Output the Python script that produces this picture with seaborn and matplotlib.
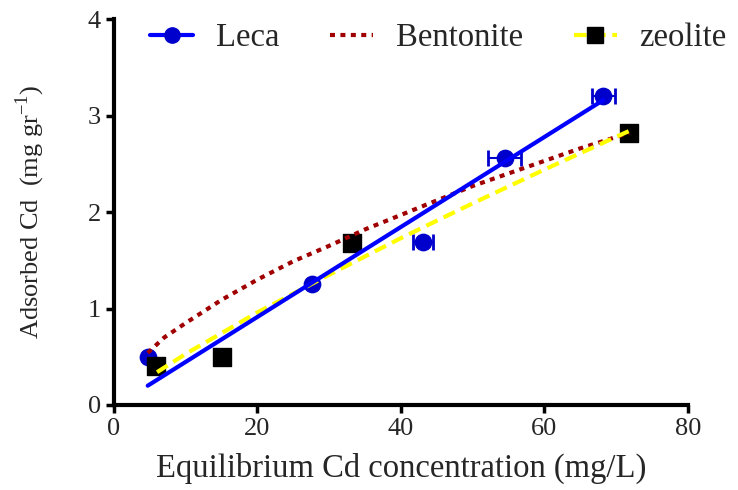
import matplotlib
matplotlib.use("Agg")
import matplotlib.pyplot as plt
import seaborn as sns
import pandas as pd
from matplotlib.lines import Line2D

# Measured points
leca_x = [4.7, 27.6, 43.1, 54.5, 68.2]
leca_y = [0.50, 1.25, 1.69, 2.56, 3.20]
leca_xerr = [0.0, 0.0, 1.4, 2.3, 1.6]

zeolite_x = [5.9, 15.0, 33.2, 71.8]
zeolite_y = [0.40, 0.50, 1.68, 2.82]

# Fitted curves
leca_fit_x = [4.7, 68.2]
leca_fit_y = [0.20, 3.16]

zeolite_fit_x = [6.0, 10, 20, 30, 40, 50, 60, 71.8]
zeolite_fit_y = [0.34, 0.53, 0.96, 1.35, 1.73, 2.09, 2.44, 2.84]

bentonite_fit_x = [4.7, 7, 10, 15, 20, 25, 30, 35, 40, 45, 50, 55, 60, 65, 71.8]
bentonite_fit_y = [0.54, 0.70, 0.85, 1.09, 1.30, 1.49, 1.65, 1.82, 1.97, 2.12, 2.27, 2.40, 2.53, 2.66, 2.82]

LECA_LINE = "#0000FF"
LECA_MARK = "#0000CC"
BENT = "#A00000"
ZEO = "#FFFF00"


def main() -> None:
    sns.set_style("ticks")
    plt.rcParams["font.family"] = ["Liberation Serif", "DejaVu Serif"]
    plt.rcParams["mathtext.fontset"] = "custom"
    plt.rcParams["mathtext.rm"] = "Liberation Serif"

    fig = plt.figure(figsize=(7.38, 4.90), dpi=100)
    ax = fig.add_axes([0.1545, 0.1735, 0.7775, 0.7875])

    leca = pd.DataFrame({"x": leca_x, "y": leca_y, "xerr": leca_xerr})
    zeo = pd.DataFrame({"x": zeolite_x, "y": zeolite_y})

    # error bars only where they are visible
    err = leca[leca["xerr"] > 0]
    ax.errorbar(err["x"], err["y"], xerr=err["xerr"], fmt="none", ecolor=LECA_MARK,
                elinewidth=1.5, capsize=5.5, capthick=2, zorder=2)
    sns.scatterplot(data=leca, x="x", y="y", ax=ax, color=LECA_MARK, s=140,
                    marker="o", edgecolor=LECA_MARK, zorder=2)
    sns.scatterplot(data=zeo, x="x", y="y", ax=ax, color="black", s=150,
                    marker="s", edgecolor="black", zorder=2)

    sns.lineplot(x=bentonite_fit_x, y=bentonite_fit_y, ax=ax, color=BENT,
                 linewidth=3, linestyle=(0, (1.2, 1.3)), zorder=3)
    sns.lineplot(x=zeolite_fit_x, y=zeolite_fit_y, ax=ax, color=ZEO,
                 linewidth=3, linestyle=(0, (3, 1.6)), zorder=3)
    sns.lineplot(x=leca_fit_x, y=leca_fit_y, ax=ax, color=LECA_LINE,
                 linewidth=3, zorder=4)

    ax.set_xlim(0, 80)
    ax.set_ylim(0, 4)
    ax.set_xticks([0, 20, 40, 60, 80])
    ax.set_yticks([0, 1, 2, 3, 4])
    ax.set_xlabel("Equilibrium Cd concentration (mg/L)", fontsize=23.5, labelpad=9)
    ax.set_ylabel(r"Adsorbed Cd  (mg gr$^{\mathregular{-1}}$)", fontsize=19, labelpad=29)
    ax.tick_params(axis="both", labelsize=19, width=2.5, length=6, color="black")

    sns.despine(ax=ax)
    for side in ["left", "bottom"]:
        ax.spines[side].set_linewidth(3)
        ax.spines[side].set_color("black")

    h_leca = Line2D([], [], color=LECA_LINE, lw=3, marker="o", markersize=11,
                    markerfacecolor=LECA_MARK, markeredgecolor=LECA_MARK)
    h_bent = Line2D([], [], color=BENT, lw=3, linestyle=(0, (1.2, 1.3)))
    h_zeo = Line2D([], [], color=ZEO, lw=3, linestyle=(0, (3, 1.6)), marker="s",
                   markersize=11, markerfacecolor="black", markeredgecolor="black")
    ax.legend([h_leca, h_bent, h_zeo], ["Leca", "Bentonite", "zeolite"], ncol=3,
              frameon=False, fontsize=23.5, loc="center left",
              bbox_to_anchor=(0.0627, 0.951), borderpad=0, borderaxespad=0,
              handlelength=1.32, columnspacing=1.55, handletextpad=0.7)

    fig.savefig("out.png", dpi=100)


if __name__ == "__main__":
    main()
